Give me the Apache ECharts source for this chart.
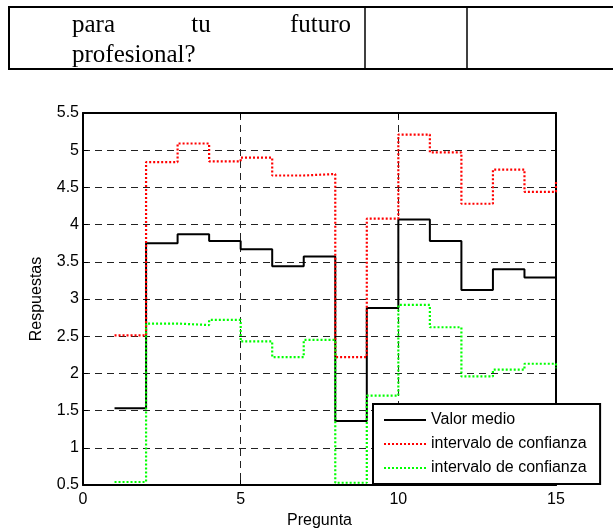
<!DOCTYPE html>
<html>
<head>
<meta charset="utf-8">
<script src="https://cdn.jsdelivr.net/npm/echarts@6/dist/echarts.min.js"></script>
<style>
html,body{margin:0;padding:0;background:#fff;}
#chart{width:613px;height:529px;}
</style>
</head>
<body>
<div id="chart"></div>
<script>
// ---- data ----
const preguntas = [1, 2, 3, 4, 5, 6, 7, 8, 9, 10, 11, 12, 13, 14, 15];
const valorMedio = [1.53, 3.75, 3.87, 3.78, 3.67, 3.44, 3.57, 1.36, 2.88, 4.07, 3.78, 3.12, 3.40, 3.29, 3.29];
const intervaloSup = [2.51, 4.84, 5.09, 4.85, 4.90, 4.66, 4.68, 2.22, 4.08, 5.21, 4.97, 4.28, 4.74, 4.44, 4.60];
const intervaloInf = [0.54, 2.67, 2.65, 2.72, 2.43, 2.22, 2.45, 0.53, 1.70, 2.92, 2.62, 1.96, 2.05, 2.13, 2.07];
const seriesNames = ['Valor medio', 'intervalo de confianza', 'intervalo de confianza '];
const xTicks = { min: 0, max: 15, interval: 5 };
const yTicks = { min: 0.5, max: 5.5, interval: 0.5 };
const tableWords = ['para', 'tu', 'futuro'];
const tableLine2 = 'profesional?';

const pair = (ys) => preguntas.map((x, i) => [x, ys[i]]);

const chart = echarts.init(document.getElementById('chart'), null, { renderer: 'canvas' });
const sans = 'Liberation Sans, Arial, sans-serif';
const serif = 'Liberation Serif, Times New Roman, serif';
const gridDash = { color: '#222', width: 1, type: [7, 5] };

const option = {
  animation: false,
  backgroundColor: '#fff',
  grid: { left: 83, top: 113, right: 57, bottom: 44, containLabel: false, outerBoundsMode: 'none' },
  xAxis: [
    {
      type: 'value', min: xTicks.min, max: xTicks.max, interval: xTicks.interval,
      position: 'bottom',
      name: 'Pregunta', nameLocation: 'middle', nameGap: 27,
      nameTextStyle: { fontFamily: sans, fontSize: 16, color: '#000' },
      axisLine: { show: true, onZero: false, lineStyle: { color: '#000', width: 2 } },
      axisTick: { show: true, inside: true, length: 5, lineStyle: { color: '#000', width: 1 } },
      axisLabel: { fontFamily: sans, fontSize: 16, color: '#000', margin: 7 },
      splitLine: { show: true, lineStyle: gridDash }
    },
    {
      type: 'value', min: xTicks.min, max: xTicks.max, interval: xTicks.interval,
      position: 'top',
      axisLine: { show: true, onZero: false, lineStyle: { color: '#000', width: 2 } },
      axisTick: { show: true, inside: true, length: 5, lineStyle: { color: '#000', width: 1 } },
      axisLabel: { show: false },
      splitLine: { show: false }
    }
  ],
  yAxis: [
    {
      type: 'value', min: yTicks.min, max: yTicks.max, interval: yTicks.interval,
      position: 'left',
      name: 'Respuestas', nameLocation: 'middle', nameGap: 38, nameRotate: 90,
      nameTextStyle: { fontFamily: sans, fontSize: 16, color: '#000' },
      axisLine: { show: true, onZero: false, lineStyle: { color: '#000', width: 2 } },
      axisTick: { show: true, inside: true, length: 5, lineStyle: { color: '#000', width: 1 } },
      axisLabel: { fontFamily: sans, fontSize: 16, color: '#000', margin: 4 },
      splitLine: { show: true, lineStyle: gridDash }
    },
    {
      type: 'value', min: yTicks.min, max: yTicks.max, interval: yTicks.interval,
      position: 'right',
      axisLine: { show: true, onZero: false, lineStyle: { color: '#000', width: 2 } },
      axisTick: { show: true, inside: true, length: 5, lineStyle: { color: '#000', width: 1 } },
      axisLabel: { show: false },
      splitLine: { show: false }
    }
  ],
  legend: {
    orient: 'vertical',
    left: 373, top: 404,
    padding: [8, 9, 8, 10],
    itemWidth: 42, itemHeight: 14, itemGap: 8,
    backgroundColor: '#fff',
    borderColor: '#000', borderWidth: 2,
    itemStyle: { opacity: 0, borderWidth: 0 },
    textStyle: { fontFamily: sans, fontSize: 16, color: '#000' },
    data: seriesNames
  },
  series: [
    {
      name: seriesNames[0], type: 'line', step: 'end', symbol: 'none',
      data: pair(valorMedio),
      lineStyle: { color: '#000', width: 2, type: 'solid' },
      itemStyle: { color: '#000' }
    },
    {
      name: seriesNames[1], type: 'line', step: 'end', symbol: 'none',
      data: pair(intervaloSup),
      lineStyle: { color: '#ff0000', width: 2.2, type: [2, 2] },
      itemStyle: { color: '#ff0000' }
    },
    {
      name: seriesNames[2], type: 'line', step: 'end', symbol: 'none',
      data: pair(intervaloInf),
      lineStyle: { color: '#00ff00', width: 2.2, type: [2, 2] },
      itemStyle: { color: '#00ff00' }
    }
  ],
  graphic: [
    { type: 'line', shape: { x1: 8, y1: 7, x2: 613, y2: 7 }, style: { stroke: '#000', lineWidth: 2 } },
    { type: 'line', shape: { x1: 8, y1: 69, x2: 613, y2: 69 }, style: { stroke: '#000', lineWidth: 2 } },
    { type: 'line', shape: { x1: 9, y1: 6, x2: 9, y2: 70 }, style: { stroke: '#000', lineWidth: 2 } },
    { type: 'line', shape: { x1: 365, y1: 6, x2: 365, y2: 70 }, style: { stroke: '#000', lineWidth: 1.5 } },
    { type: 'line', shape: { x1: 467, y1: 6, x2: 467, y2: 70 }, style: { stroke: '#000', lineWidth: 1.5 } },
    { type: 'text', x: 72, y: 25, style: { text: tableWords[0], font: '25px ' + serif, fill: '#000', verticalAlign: 'middle', align: 'left' } },
    { type: 'text', x: 201, y: 25, style: { text: tableWords[1], font: '25px ' + serif, fill: '#000', verticalAlign: 'middle', align: 'center' } },
    { type: 'text', x: 351, y: 25, style: { text: tableWords[2], font: '25px ' + serif, fill: '#000', verticalAlign: 'middle', align: 'right' } },
    { type: 'text', x: 72, y: 55, style: { text: tableLine2, font: '25px ' + serif, fill: '#000', verticalAlign: 'middle', align: 'left' } }
  ]
};
chart.setOption(option);
</script>
</body>
</html>
